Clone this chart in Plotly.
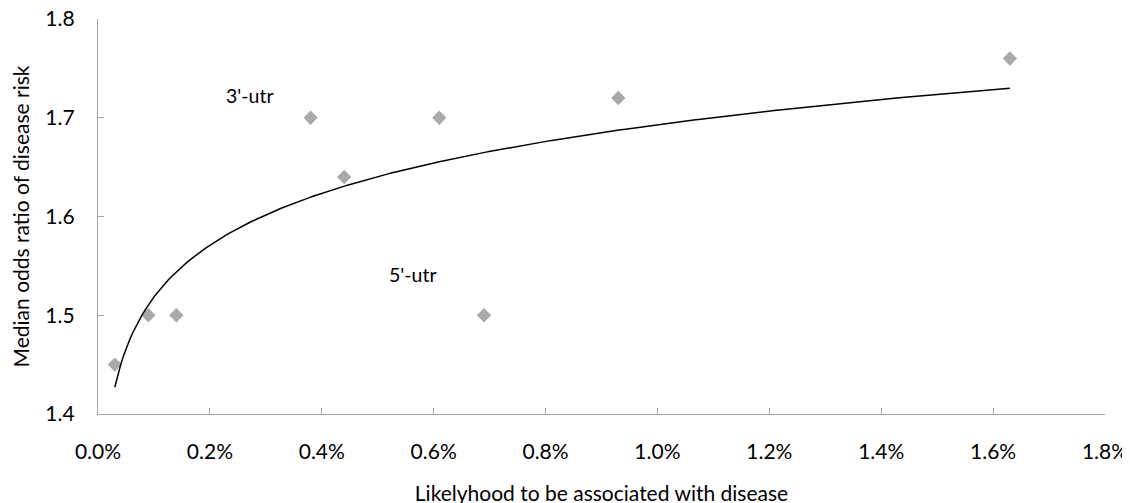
import numpy as np
import plotly.graph_objects as go

# Data (x as fraction, displayed as percent)
likelihood = [0.0003, 0.0009, 0.0014, 0.0038, 0.0044, 0.0061, 0.0069, 0.0093, 0.0163]
odds_ratio = [1.45, 1.50, 1.50, 1.70, 1.64, 1.70, 1.50, 1.72, 1.76]

# Logarithmic trendline: y = a + b*ln(x)
trend_a = 2.042
trend_b = 0.0758
trend_x_start = 0.0003
trend_x_end = 0.0163

x_ticks = [0.0, 0.002, 0.004, 0.006, 0.008, 0.010, 0.012, 0.014, 0.016, 0.018]
y_ticks = [1.4, 1.5, 1.6, 1.7, 1.8]

labels = ["3'-utr", "5'-utr"]
label_x = [0.00272, 0.00563]
label_y = [1.723, 1.541]

tx = np.linspace(trend_x_start, trend_x_end, 300)
ty = trend_a + trend_b * np.log(tx)

FONT = "Lato, 'Open Sans', sans-serif"
AXIS_COLOR = "#a6a6a6"
FS = 21

fig = go.Figure()
fig.add_trace(go.Scatter(
    x=likelihood, y=odds_ratio, mode="markers",
    marker=dict(symbol="diamond", size=11, color="#a9a9a9", line=dict(width=0)),
    showlegend=False, hoverinfo="x+y"))
fig.add_trace(go.Scatter(
    x=tx, y=ty, mode="lines",
    line=dict(color="black", width=1.5),
    showlegend=False, hoverinfo="skip"))

for t, xv, yv in zip(labels, label_x, label_y):
    fig.add_annotation(x=xv, y=yv, text=t, showarrow=False,
                       font=dict(family=FONT, size=19.5, color="black"))

fig.update_layout(
    width=1130, height=503,
    margin=dict(l=90, r=33, t=11, b=97),
    plot_bgcolor="white", paper_bgcolor="white",
    font=dict(family=FONT, size=FS, color="black"),
)
fig.update_xaxes(
    range=[0, 0.018], tickvals=x_ticks, tickformat=".1%",
    showgrid=False, zeroline=False, showline=True, linecolor=AXIS_COLOR, linewidth=1.3,
    ticks="inside", ticklen=6, tickcolor=AXIS_COLOR, tickwidth=1.3,
    tickfont=dict(family=FONT, size=FS, color="black"),
    ticklabelstandoff=19, automargin=False, ticklabeloverflow="allow",
    title=dict(text="Likelyhood to be associated with disease",
               font=dict(family=FONT, size=FS, color="black"), standoff=23),
)
fig.update_yaxes(
    range=[1.4, 1.8], tickvals=y_ticks, tickformat=".1f",
    showgrid=False, zeroline=False, showline=True, linecolor=AXIS_COLOR, linewidth=1.3,
    ticks="inside", ticklen=6, tickcolor=AXIS_COLOR, tickwidth=1.3,
    tickfont=dict(family=FONT, size=FS, color="black"),
    ticklabelstandoff=18, automargin=False, ticklabeloverflow="allow",
    title=dict(text="Median odds ratio of disease risk",
               font=dict(family=FONT, size=FS, color="black"), standoff=11),
)

fig.write_html("out.html")
